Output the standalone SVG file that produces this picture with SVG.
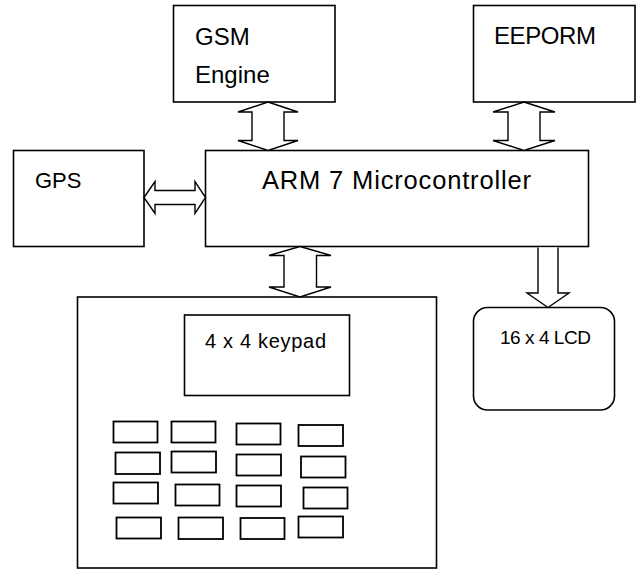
<svg xmlns="http://www.w3.org/2000/svg" width="641" height="569" viewBox="0 0 641 569">
<style>
.box{fill:#fff;stroke:#000;stroke-width:1.6}
.key{fill:#fff;stroke:#000;stroke-width:1.8}
.arr{fill:#fff;stroke:#000;stroke-width:1.4;stroke-linejoin:miter}
text{font-family:"Liberation Sans",Arial,sans-serif;fill:#000}
</style>
<rect width="641" height="569" fill="#fff"/>
<g id="gsm">
<rect class="box" x="173.5" y="5.5" width="161.5" height="96.5"/>
<text x="195" y="45" font-size="24">GSM</text>
<text x="195" y="83" font-size="24">Engine</text>
</g>
<g id="eeprom">
<rect class="box" x="473.5" y="5.5" width="161.5" height="96.5"/>
<text x="494" y="44" font-size="24" textLength="102">EEPORM</text>
</g>
<g id="gps">
<rect class="box" x="13.5" y="150.5" width="130.5" height="96"/>
<text x="35" y="188" font-size="22">GPS</text>
</g>
<g id="arm">
<rect class="box" x="205.5" y="150.5" width="383" height="96"/>
<text x="262" y="188.5" font-size="25.5" textLength="269" lengthAdjust="spacing">ARM 7 Microcontroller</text>
</g>
<g id="lcd">
<rect class="box" x="473.5" y="307.5" width="141" height="102.5" rx="14" ry="14"/>
<text x="500" y="344" font-size="19" textLength="91" lengthAdjust="spacing">16 x 4 LCD</text>
</g>
<g id="keypad">
<rect class="box" x="77.5" y="297" width="359" height="271"/>
<rect class="box" x="184.5" y="315" width="165" height="80.5"/>
<text x="205" y="348" font-size="20" textLength="121" lengthAdjust="spacing">4 x 4 keypad</text>
<rect class="key" x="113.5" y="421.5" width="44" height="21"/>
<rect class="key" x="171.5" y="421.5" width="44" height="21"/>
<rect class="key" x="236.5" y="423.5" width="44" height="21"/>
<rect class="key" x="298.5" y="425" width="44.5" height="21"/>
<rect class="key" x="115.5" y="452.5" width="44.5" height="21.5"/>
<rect class="key" x="171.5" y="451.5" width="44.5" height="21"/>
<rect class="key" x="236.5" y="454.5" width="44.5" height="21"/>
<rect class="key" x="301" y="456.5" width="44.5" height="21"/>
<rect class="key" x="113.5" y="482.5" width="44.5" height="21"/>
<rect class="key" x="175.5" y="484.5" width="44" height="21"/>
<rect class="key" x="236.5" y="485.5" width="44.5" height="21"/>
<rect class="key" x="303.5" y="487.5" width="44" height="21"/>
<rect class="key" x="116.5" y="517.5" width="44.5" height="21"/>
<rect class="key" x="178.5" y="517.5" width="44.5" height="21.5"/>
<rect class="key" x="240.5" y="518" width="44" height="21"/>
<rect class="key" x="298.5" y="516.5" width="44.5" height="21"/>
</g>
<g id="connectors">
<path class="arr" d="M268,102 L298,112 L284,112 L284,140.5 L298,140.5 L268,150.5 L238,140.5 L252,140.5 L252,112 L238,112 Z"/>
<path class="arr" d="M524,102 L555,112 L540,112 L540,140.5 L555,140.5 L524,150.5 L493,140.5 L508,140.5 L508,112 L493,112 Z"/>
<path class="arr" d="M144,197.5 L155,181.5 L155,190.5 L195,190.5 L195,181.5 L205.5,197.5 L195,213.5 L195,204.5 L155,204.5 L155,213.5 Z"/>
<path class="arr" d="M300,246.5 L331,255.5 L316.5,255.5 L316.5,287 L331,287 L300,297 L269,287 L284,287 L284,255.5 L269,255.5 Z"/>
<path class="arr" d="M538,247.4 L538,293 L527,293 L548,307.5 L569,293 L558,293 L558,247.4"/>
</g>
</svg>
